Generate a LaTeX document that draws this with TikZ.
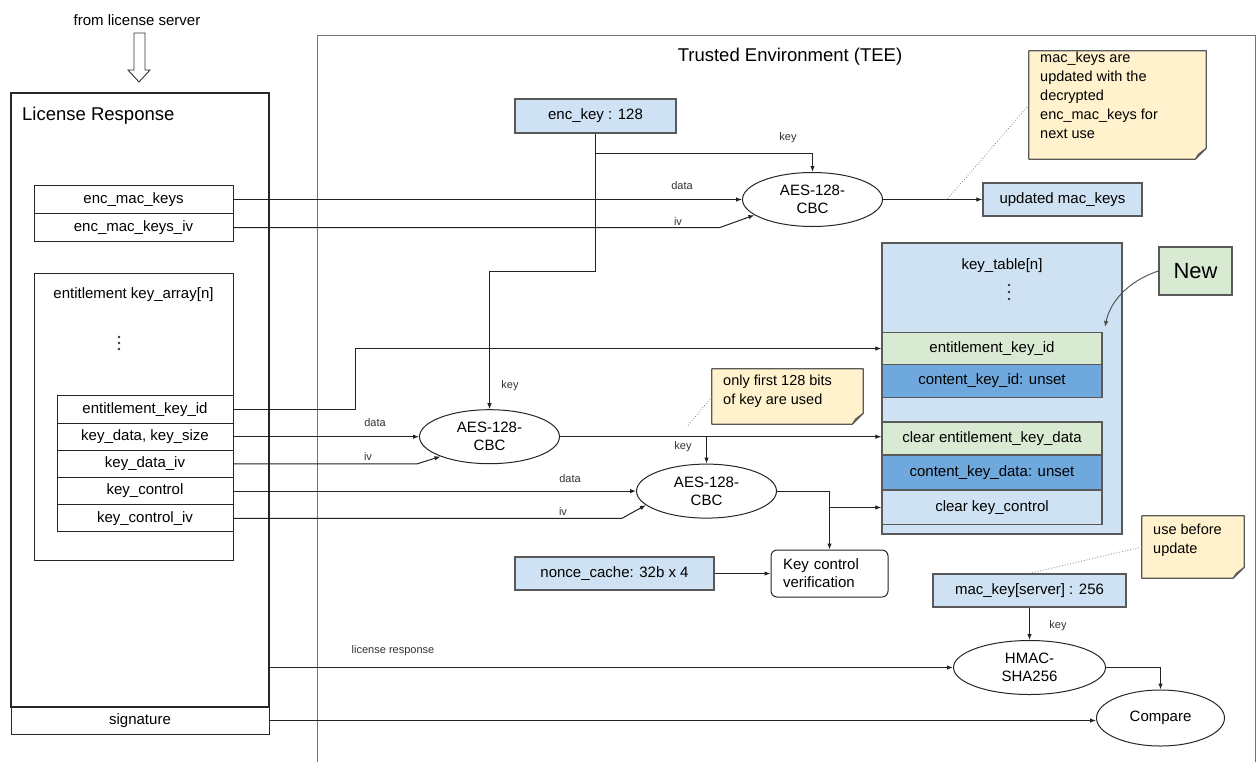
\documentclass[tikz,border=0pt]{standalone}
\usepackage{fontspec}
\setmainfont{Liberation Sans}
\usetikzlibrary{shapes.geometric,arrows.meta,calc}
\definecolor{lblue}{HTML}{CFE2F3}
\definecolor{lgreen}{HTML}{D9EAD3}
\definecolor{mblue}{HTML}{6FA8DC}
\definecolor{noteyel}{HTML}{FFF2CC}
\definecolor{bord}{HTML}{595959}
\definecolor{lnc}{HTML}{222222}
\tikzset{
 txt/.style={font=\fontsize{15}{18}\selectfont},
 lbl/.style={font=\fontsize{11}{13}\selectfont, text=black!80, inner sep=0pt},
 row/.style={draw=black!85, line width=1pt, rectangle, inner sep=0pt, txt},
 cbox/.style={draw=bord, line width=1.3pt, rectangle, inner sep=0pt, txt},
 oval/.style={draw=black!85, line width=1pt, ellipse, inner sep=0pt, txt, align=center},
 conn/.style={draw=lnc, line width=1pt},
 arr/.style={conn, -{Latex[length=6pt,width=4.5pt]}},
 dotl/.style={draw=black!50, dotted, line width=0.8pt},
 notebg/.style={rectangle, fill=noteyel, inner sep=0pt},
 notetxt/.style={font=\fontsize{14.5}{19}\selectfont, align=left, inner sep=0pt},
}
\newcommand\notecorner[1]{%
 \fill[white] (#1.south east) -- ($(#1.south east)+(0,-11)$) -- ($(#1.south east)+(-11,0)$) -- cycle;
 \draw[draw=bord, line width=1.2pt, line join=round] (#1.north west) -- (#1.north east) -- ($(#1.south east)+(0,-11)$) -- ($(#1.south east)+(-11,0)$) -- (#1.south west) -- cycle;
 \filldraw[fill=noteyel!70!black, draw=bord, line width=0.8pt, line join=round] ($(#1.south east)+(0,-11)$) -- ($(#1.south east)+(-8,-5)$) -- ($(#1.south east)+(-11,0)$) -- cycle;}
\begin{document}
\begin{tikzpicture}[x=1pt,y=-1pt]
\useasboundingbox (0,0) rectangle (1257,761);
\fill[white] (0,0) rectangle (1257,761);

% from license server
\node[txt, inner sep=0pt] (fls) at (137,20) {from license server};
\draw[black!80, line width=0.9pt, fill=white, line join=miter]
  (134,33) -- (145,33) -- (145,70) -- (150,70) -- (139,82) -- (128,70) -- (134,70) -- cycle;

% License Response
\node[draw=black!85, line width=1.1pt, rectangle, inner sep=0pt, minimum width=258pt, minimum height=614pt] (lr) at (140,400) {};
\node[font=\fontsize{18.5}{22}\selectfont, inner sep=0pt, anchor=west] (lrt) at (22,116) {License Response};
\node[row, minimum width=258pt, minimum height=28pt] (sig) at (140,720.5) {signature};
\node[row, minimum width=199pt, minimum height=28pt] (emk) at (133.5,199.5) {enc\_mac\_keys};
\node[row, minimum width=199pt, minimum height=28pt] (emkiv) at (133.5,227.5) {enc\_mac\_keys\_iv};
\node[row, minimum width=199pt, minimum height=287pt] (karr) at (133.5,416.5) {};
\node[txt, inner sep=0pt] (karrt) at (133.5,295) {entitlement key\_array[n]};
\fill[black!80] (119,337) circle (1.3) (119,343) circle (1.3) (119,349) circle (1.3);
\node[row, minimum width=176pt, minimum height=27.2pt] (ekid) at (145,409.5) {entitlement\_key\_id};
\node[row, minimum width=176pt, minimum height=27.2pt] (kdata) at (145,436.7) {key\_data, key\_size};
\node[row, minimum width=176pt, minimum height=27.2pt] (kdiv) at (145,463.9) {key\_data\_iv};
\node[row, minimum width=176pt, minimum height=27.2pt] (kc) at (145,491.1) {key\_control};
\node[row, minimum width=176pt, minimum height=27.2pt] (kciv) at (145,518.3) {key\_control\_iv};

% TEE
\draw[black!55, line width=1pt] (317.5,770) -- (317.5,35.5) -- (1255.5,35.5) -- (1255.5,770);
\node[font=\fontsize{18.5}{22}\selectfont, inner sep=0pt] (tee) at (790,57) {Trusted Environment (TEE)};

\node[cbox, fill=lblue, minimum width=161pt, minimum height=34pt] (enckey) at (595.5,116) {enc\_key : 128};
\node[oval, minimum width=140pt, minimum height=54pt] (aes1) at (812.5,199.5) {AES-128-\\CBC};
\node[cbox, fill=lblue, minimum width=159pt, minimum height=33pt] (updmac) at (1062.5,199.5) {updated mac\_keys};

\node[notebg, minimum width=177pt, minimum height=108pt] (note1) at (1117.5,105) {};
\notecorner{note1}
\node[notetxt, anchor=north west] (note1t) at (1040,52) {mac\_keys are\\updated with the\\decrypted\\enc\_mac\_keys for\\next use};

% key table
\node[cbox, fill=lblue, minimum width=240pt, minimum height=291pt] (kt) at (1002,388.5) {};
\node[txt, inner sep=0pt] (ktt) at (1002,266) {key\_table[n]};
\fill[black!80] (1009,285) circle (1.3) (1009,292) circle (1.3) (1009,299) circle (1.3);
\node[cbox, fill=lgreen, minimum width=220pt, minimum height=32pt] (tekid) at (992,348.5) {entitlement\_key\_id};
\node[cbox, fill=mblue, minimum width=220pt, minimum height=33pt] (tckid) at (992,381) {content\_key\_id: unset};
\node[cbox, fill=lgreen, minimum width=220pt, minimum height=33pt] (tced) at (992,438.5) {clear entitlement\_key\_data};
\node[cbox, fill=mblue, minimum width=220pt, minimum height=35pt] (tckd) at (992,472.5) {content\_key\_data: unset};
\node[cbox, fill=lblue, minimum width=220pt, minimum height=34pt] (tkc) at (992,507.5) {clear key\_control};

\node[cbox, fill=lgreen, minimum width=73pt, minimum height=48pt, font=\fontsize{22}{26}\selectfont] (new) at (1195.5,271) {New};
\coordinate (newtip) at (1105,327);
\draw[draw=black!70, line width=0.9pt, -{Latex[length=6pt,width=4.5pt]}] (new.west) .. controls (1128,281) and (1110,302) .. (newtip);

% AES 2 and 3
\node[oval, minimum width=140pt, minimum height=54pt] (aes2) at (489.5,436.7) {AES-128-\\CBC};
\node[oval, minimum width=140pt, minimum height=54pt] (aes3) at (706.5,491.1) {AES-128-\\CBC};

\node[notebg, minimum width=151pt, minimum height=55pt] (note2) at (787.5,396.5) {};
\notecorner{note2}
\node[notetxt, anchor=north west] (note2t) at (723,375) {only first 128 bits\\of key are used};

\node[cbox, fill=lblue, minimum width=199pt, minimum height=33pt] (nonce) at (614.5,573.5) {nonce\_cache: 32b x 4};
\node[draw=black!85, line width=1pt, rectangle, rounded corners=6pt, inner xsep=12pt, inner ysep=0pt, text width=93pt, minimum height=47pt, align=left, txt] (kcv) at (829.5,573.5) {Key control\\verification};

\node[notebg, minimum width=102pt, minimum height=62pt] (note3) at (1193,547) {};
\notecorner{note3}
\node[notetxt, anchor=north west] (note3t) at (1153,524) {use before\\update};

\node[cbox, fill=lblue, minimum width=193pt, minimum height=33pt] (macsrv) at (1029.5,590.5) {mac\_key[server] : 256};
\node[oval, minimum width=152pt, minimum height=54pt] (hmac) at (1029.5,667.5) {HMAC-\\SHA256};
\node[oval, minimum width=128pt, minimum height=56pt] (cmp) at (1160.5,718) {Compare};

% connectors
\draw[arr] (emk.east) -- (aes1.west);
\draw[arr] (emkiv.east) -- (720,227.5) -- (aes1.195);
\draw[arr] (enckey.south) -- ++(0,138) -| (aes2.north);
\draw[arr] ($(enckey.south)+(0,20)$) -| (aes1.north);
\draw[arr] (aes1.east) -- (aes1.east -| updmac.west);
\coordinate (d1) at (947,199.5);
\draw[dotl] (note1.west) -- (d1);

\draw[arr] (ekid.east) -- ++(122,0) |- (tekid.west);
\draw[arr] (kdata.east) -- (aes2.west);
\draw[arr] (kdiv.east) -- (417,463.9) -- (aes2.202);
\draw[arr] (aes2.east) -- (aes2.east -| tced.west);
\draw[arr] (aes3.north |- aes2.east) -- (aes3.north);
\coordinate (d2) at (687,427);
\draw[dotl] (note2.west) -- (d2);

\draw[arr] (kc.east) -- (aes3.west);
\draw[arr] (kciv.east) -- (622,518.3) -- (aes3.193);
\draw[arr] (aes3.east) -| (kcv.north);
\draw[arr] (kcv.north |- tkc.west) -- (tkc.west);
\draw[arr] (nonce.east) -- (kcv.west);

\draw[dotl] (note3.west) -- (macsrv.north);
\draw[arr] (macsrv.south) -- (hmac.north);
\draw[arr] (lr.east |- hmac.west) -- (hmac.west);
\draw[arr] (hmac.east) -| (cmp.north);
\draw[arr] (sig.east) -- (sig.east -| cmp.west);

% labels
\node[lbl] (l1) at (788,138) {key};
\node[lbl] (l2) at (682,186) {data};
\node[lbl] (l3) at (678,222) {iv};
\node[lbl] (l4) at (510,386) {key};
\node[lbl] (l5) at (375,423) {data};
\node[lbl] (l6) at (368,457) {iv};
\node[lbl] (l7) at (683,447) {key};
\node[lbl] (l8) at (570,479) {data};
\node[lbl] (l9) at (563,512) {iv};
\node[lbl] (l10) at (1058,626) {key};
\node[lbl] (l11) at (393,651) {license response};
\end{tikzpicture}
\end{document}
